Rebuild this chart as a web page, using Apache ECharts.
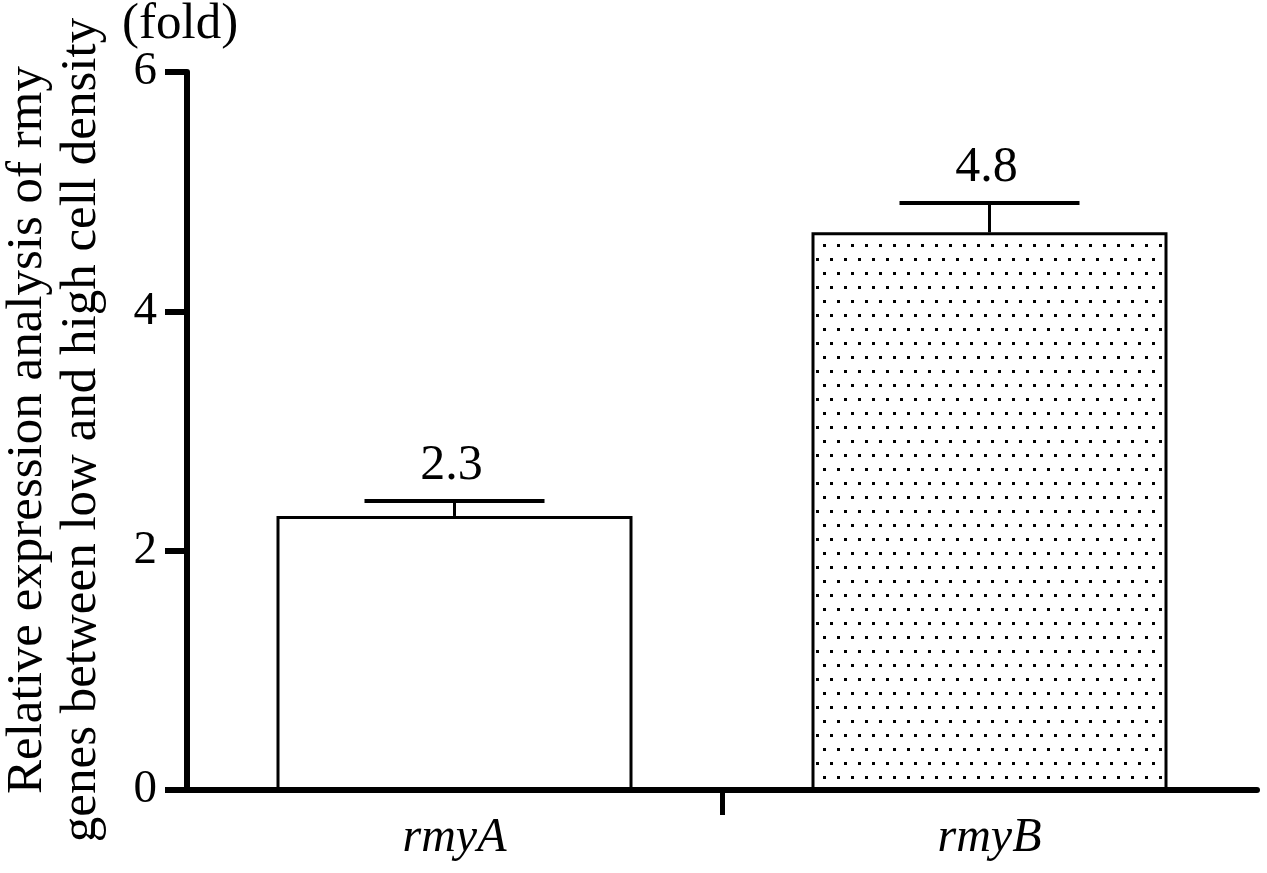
<!DOCTYPE html>
<html>
<head>
<meta charset="utf-8">
<style>
  html, body { margin: 0; padding: 0; background: #fff; }
  #chart { width: 1267px; height: 873px; }
</style>
<script src="https://cdn.jsdelivr.net/npm/echarts@6/dist/echarts.min.js"></script>
</head>
<body>
<div id="chart"></div>
<script>
// ---- data ----
const categories = ['rmyA', 'rmyB'];
const means = [2.29, 4.66];
const errors = [0.125, 0.245];
const valueLabels = ['2.3', '4.8'];
const yMin = 0, yMax = 6, yInterval = 2;
const yTitleLines = ['Relative expression analysis of rmy', 'genes between low and high cell density'];
const unitLabel = '(fold)';

const FONT = "'Liberation Serif', 'Times New Roman', serif";

// dotted fill pattern for the second bar
function makeDots() {
  const c = document.createElement('canvas');
  c.width = 14; c.height = 28;
  const g = c.getContext('2d');
  g.fillStyle = '#fff';
  g.fillRect(0, 0, 14, 28);
  g.fillStyle = '#000';
  g.fillRect(4, 6, 3, 3);
  g.fillRect(11, 20, 3, 3);
  return c;
}
const dotPattern = { image: makeDots(), repeat: 'repeat' };
const fills = ['#ffffff', dotPattern];

const chart = echarts.init(document.getElementById('chart'), null, { renderer: 'canvas' });

const option = {
  backgroundColor: '#ffffff',
  animation: false,
  grid: { left: 187, right: 10, top: 72, bottom: 83, containLabel: false, outerBoundsMode: 'none' },
  xAxis: [
    {
      type: 'category',
      data: categories,
      boundaryGap: true,
      axisLine: { show: true, lineStyle: { color: '#000', width: 6 } },
      axisTick: { show: false },
      axisLabel: {
        color: '#000', fontFamily: FONT, fontSize: 48, fontStyle: 'italic', margin: 24
      },
      splitLine: { show: false }
    },
    {
      type: 'value',
      min: 0, max: 2, interval: 1,
      position: 'bottom',
      axisLine: { show: false },
      axisLabel: { show: false },
      splitLine: { show: false },
      axisTick: { show: true, length: 25, customValues: [1], lineStyle: { color: '#000', width: 5 } }
    }
  ],
  yAxis: {
    type: 'value',
    min: yMin, max: yMax, interval: yInterval,
    axisLine: { show: true, lineStyle: { color: '#000', width: 6 } },
    axisTick: { show: true, length: 22, lineStyle: { color: '#000', width: 6 } },
    axisLabel: { color: '#000', fontFamily: FONT, fontSize: 47, margin: 30 },
    splitLine: { show: false }
  },
  graphic: [
    {
      type: 'text',
      x: 55, y: 430,
      rotation: Math.PI / 2,
      style: {
        text: yTitleLines.join('\n'),
        font: '51px ' + FONT,
        fill: '#000',
        align: 'center',
        verticalAlign: 'middle',
        lineHeight: 54
      }
    },
    {
      type: 'text',
      x: 122, y: 25,
      style: {
        text: unitLabel,
        font: '51px ' + FONT,
        fill: '#000',
        align: 'left',
        verticalAlign: 'middle'
      }
    }
  ],
  series: [
    {
      type: 'bar',
      xAxisIndex: 0,
      barWidth: 356,
      data: means.map((v, i) => ({
        value: v,
        itemStyle: { color: fills[i], borderColor: '#000', borderWidth: 3 }
      })),
      z: 2
    },
    {
      type: 'custom',
      xAxisIndex: 0,
      z: 5,
      data: means.map((v, i) => [i, v, v + errors[i], valueLabels[i]]),
      renderItem: function (params, api) {
        const idx = api.value(0);
        const base = api.coord([idx, api.value(1)]);
        const top = api.coord([idx, api.value(2)]);
        const half = 90;
        const i = params.dataIndex;
        return {
          type: 'group',
          children: [
            { type: 'line', shape: { x1: base[0], y1: base[1], x2: top[0], y2: top[1] },
              style: { stroke: '#000', lineWidth: 3 } },
            { type: 'line', shape: { x1: top[0] - half, y1: top[1], x2: top[0] + half, y2: top[1] },
              style: { stroke: '#000', lineWidth: 4 } },
            { type: 'text', x: top[0] - 3, y: top[1] - 10,
              style: { text: valueLabels[i], font: '50px ' + FONT, fill: '#000',
                       align: 'center', verticalAlign: 'bottom' } }
          ]
        };
      }
    }
  ]
};

chart.setOption(option);
</script>
</body>
</html>
